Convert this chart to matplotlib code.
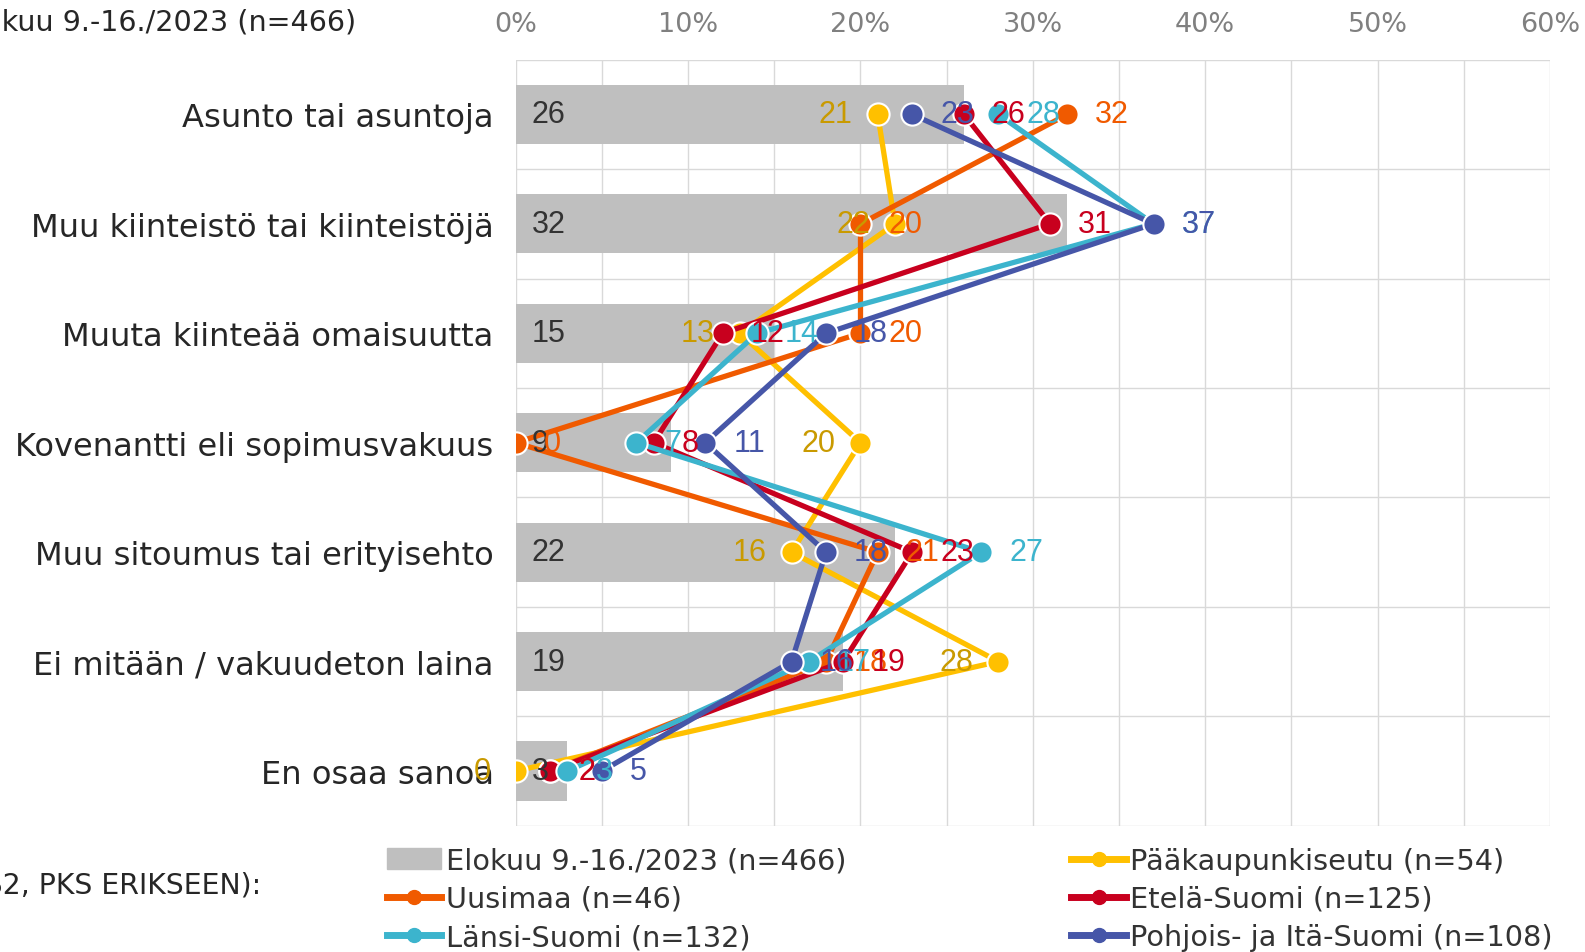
import matplotlib.pyplot as plt
from matplotlib.lines import Line2D
from matplotlib.patches import Patch
import numpy as np

# Kategoriat ylhäältä alas
kategoriat = ["Asunto tai asuntoja", "Muu kiinteistö tai kiinteistöjä",
              "Muuta kiinteää omaisuutta", "Kovenantti eli sopimusvakuus",
              "Muu sitoumus tai erityisehto", "Ei mitään / vakuudeton laina",
              "En osaa sanoa"]

# Koko maa (palkit)
koko_maa = [26, 32, 15, 9, 22, 19, 3]

# Alueet (viivat)
pks = [21, 22, 13, 20, 16, 28, 0]
uusimaa = [32, 20, 20, 0, 21, 18, 2]
etela = [26, 31, 12, 8, 23, 19, 2]
lansi = [28, 37, 14, 7, 27, 17, 3]
pohjoinen = [23, 37, 18, 11, 18, 16, 5]

sarjat = [
    ("Pääkaupunkiseutu (n=54)", pks, "#FFC000", "#C99A00", "left"),
    ("Uusimaa (n=46)", uusimaa, "#F05A00", "#F05A00", "right"),
    ("Etelä-Suomi (n=125)", etela, "#C8001E", "#C8001E", "right"),
    ("Länsi-Suomi (n=132)", lansi, "#3CB4CD", "#3CB4CD", "right"),
    ("Pohjois- ja Itä-Suomi (n=108)", pohjoinen, "#4656A8", "#4656A8", "right"),
]

fig = plt.figure(figsize=(15.85, 9.53), dpi=100)
ax = fig.add_axes([0.3254, 0.1325, 0.6525, 0.8038])

y = np.arange(len(kategoriat))

ax.barh(y, koko_maa, height=0.54, color="#BFBFBF", zorder=2)
for yi, v in zip(y, koko_maa):
    ax.annotate(str(v), (0, yi), xytext=(16, 0), textcoords="offset pixels",
                ha="left", va="center", fontsize=22, color="#333333",
                family="Liberation Sans", zorder=10)

for i, (nimi, arvot, vari, tekstivari, puoli) in enumerate(sarjat):
    ax.plot(arvot, y, color=vari, lw=3.8, marker="o", markersize=16,
            markerfacecolor=vari, markeredgecolor="white", markeredgewidth=1.5,
            zorder=3 + i, solid_capstyle="round")
    for yi, v in zip(y, arvot):
        if puoli == "right":
            dx, ha = 28, "left"
        else:
            dx, ha = -25, "right"
        ax.annotate(str(v), (v, yi), xytext=(dx, 0), textcoords="offset pixels",
                    ha=ha, va="center", fontsize=22, color=tekstivari,
                    family="Liberation Sans", zorder=20)

ax.set_xlim(0, 60)
ax.set_ylim(6.5, -0.5)
ax.set_xticks(np.arange(0, 61, 5))
ax.set_xticklabels([f"{t}%" if t % 10 == 0 else "" for t in range(0, 61, 5)])
ax.set_yticks(y)
ax.set_yticklabels(kategoriat, fontsize=23.1, color="#262626")
ax.set_yticks(np.arange(-0.5, 7, 1), minor=True)
ax.xaxis.tick_top()
ax.tick_params(axis="x", labelsize=19.5, colors="#808080", length=0, pad=16)
ax.tick_params(axis="y", length=0, pad=16)
ax.tick_params(axis="y", which="minor", length=0)
ax.grid(True, axis="x", color="#D9D9D9", lw=1, zorder=0)
ax.grid(True, axis="y", which="minor", color="#D9D9D9", lw=1, zorder=0)
for s in ax.spines.values():
    s.set_visible(False)

# Tekstit jotka jatkuvat kuvan vasemman reunan yli
fig.text(356 / 1585, 1 - 22 / 953, "Elokuu 9.-16./2023 (n=466)", ha="right", va="center",
         fontsize=20.6, color="#262626")
fig.text(261 / 1585, 1 - 886 / 953, "ALUEITTAIN (NUTS2, PKS ERIKSEEN):", ha="right", va="center",
         fontsize=20.4, color="#262626")

def kahva(vari):
    return Line2D([0], [0], color=vari, lw=5, marker="o", markersize=10,
                  markerfacecolor=vari, markeredgecolor=vari)

kahvat1 = [Patch(color="#BFBFBF"), kahva(sarjat[1][2]), kahva(sarjat[3][2])]
nimet1 = ["Elokuu 9.-16./2023 (n=466)", sarjat[1][0], sarjat[3][0]]
kahvat2 = [kahva(sarjat[0][2]), kahva(sarjat[2][2]), kahva(sarjat[4][2])]
nimet2 = [sarjat[0][0], sarjat[2][0], sarjat[4][0]]

for kahvat, nimet, x0 in ((kahvat1, nimet1, 0.244), (kahvat2, nimet2, 0.676)):
    leg = fig.legend(kahvat, nimet, loc="upper left", bbox_to_anchor=(x0, 0.1106),
                     frameon=False, fontsize=20.7, labelspacing=0.36, handlelength=1.9,
                     handletextpad=0.15, borderpad=0, borderaxespad=0)
    for t in leg.get_texts():
        t.set_color("#333333")

fig.savefig("out.png", dpi=100)
